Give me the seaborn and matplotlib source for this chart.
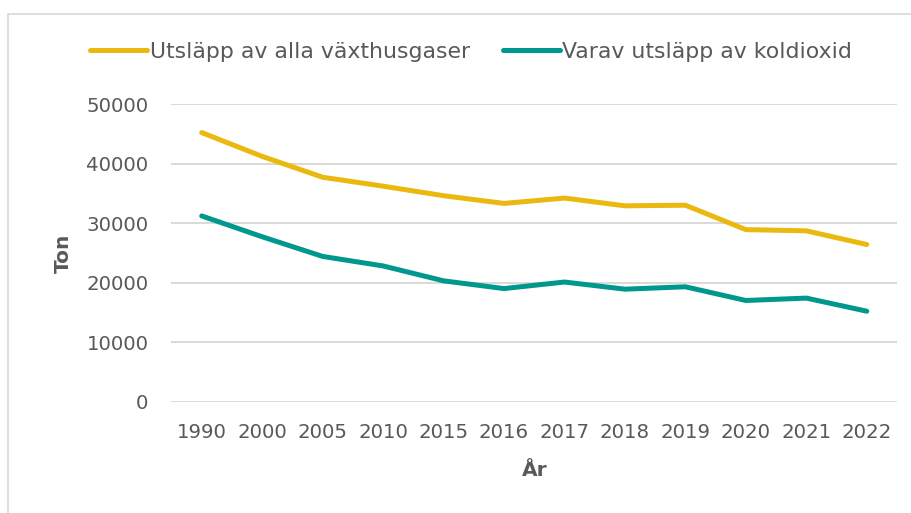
import matplotlib
matplotlib.use("Agg")
import matplotlib.pyplot as plt
import seaborn as sns
import pandas as pd
from matplotlib.patches import Rectangle

years = ["1990", "2000", "2005", "2010", "2015", "2016", "2017", "2018", "2019", "2020", "2021", "2022"]
all_ghg = [45200, 41200, 37700, 36200, 34600, 33300, 34200, 32900, 33000, 28900, 28700, 26400]
co2 = [31200, 27700, 24400, 22800, 20300, 19000, 20100, 18900, 19300, 17000, 17400, 15200]
series_names = ["Utsläpp av alla växthusgaser", "Varav utsläpp av koldioxid"]
colors = ["#EBB80F", "#00988C"]
yticks = [0, 10000, 20000, 30000, 40000, 50000]

df = pd.DataFrame({
    "År": years * 2,
    "Ton": all_ghg + co2,
    "Serie": [series_names[0]] * len(years) + [series_names[1]] * len(years),
})

sns.set_theme(style="white")
plt.rcParams["font.family"] = ["DejaVu Sans"]
txt = "#595959"

fig = plt.figure(figsize=(9.12, 5.13), dpi=100)
ax = fig.add_axes([171.5 / 912, 1 - 401.7 / 513, (897 - 171.5) / 912, (401.7 - 104) / 513])

sns.lineplot(data=df, x="År", y="Ton", hue="Serie", palette=colors, linewidth=3.6,
             sort=False, ax=ax, legend=True, solid_capstyle="round")

ax.set_ylim(0, 50000)
ax.set_xlim(-0.5, len(years) - 0.5)
ax.set_yticks(yticks)
ax.set_yticklabels([str(v) for v in yticks])
ax.grid(axis="y", color="#D9D9D9", linewidth=1.4)
ax.grid(axis="x", visible=False)
ax.set_axisbelow(True)
for s in ax.spines.values():
    s.set_visible(False)
ax.tick_params(axis="both", length=0, labelsize=14.2, colors=txt)
ax.tick_params(axis="y", pad=16.5)
ax.tick_params(axis="x", pad=15)
ax.set_xlabel("År", fontsize=14.5, fontweight="bold", color=txt, labelpad=14)
ax.set_ylabel("Ton", fontsize=14.5, fontweight="bold", color=txt, labelpad=10)

handles, labels = ax.get_legend_handles_labels()
leg = ax.legend(handles, labels, loc="center", bbox_to_anchor=(471 / 912, 1 - 52 / 513),
                bbox_transform=fig.transFigure, ncol=2, frameon=False, fontsize=15.8,
                handlelength=2.6, handletextpad=0.12, columnspacing=1.5)
for t in leg.get_texts():
    t.set_color(txt)
for l in leg.get_lines():
    l.set_linewidth(3.6)

fig.patches.append(Rectangle((8.5 / 912, -0.1), 1.2, 1 - 14 / 513 + 0.1, transform=fig.transFigure,
                             fill=False, edgecolor="#D9D9D9", linewidth=1.2))

fig.savefig("out.png", dpi=100)
